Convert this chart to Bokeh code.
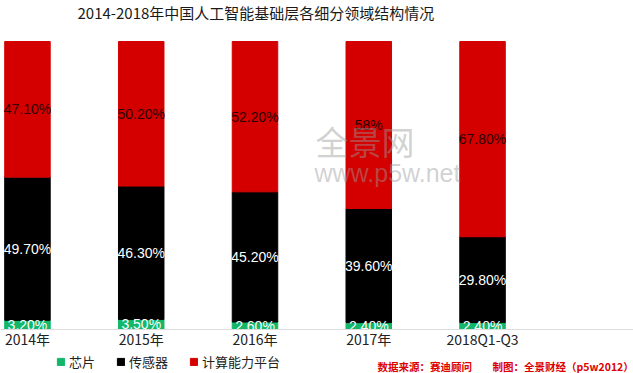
from bokeh.plotting import figure
from bokeh.models import Range1d, FixedTicker, Legend, LegendItem, Label, ColumnDataSource
from bokeh.core.properties import value
from bokeh.embed import file_html
from bokeh.resources import INLINE
import numpy as np

title_text = "2014-2018年中国人工智能基础层各细分领域结构情况"
categories = ["2014年", "2015年", "2016年", "2017年", "2018Q1-Q3"]
chip = [3.20, 3.50, 2.60, 2.40, 2.40]
sensor = [49.70, 46.30, 45.20, 39.60, 29.80]
compute = [47.10, 50.20, 52.20, 58.0, 67.80]
chip_labels = ["3.20%", "3.50%", "2.60%", "2.40%", "2.40%"]
sensor_labels = ["49.70%", "46.30%", "45.20%", "39.60%", "29.80%"]
compute_labels = ["47.10%", "50.20%", "52.20%", "58%", "67.80%"]
series_names = ["芯片", "传感器", "计算能力平台"]
colors = ["#12b76a", "#000000", "#d40000"]
label_colors = ["#ffffff", "#ffffff", "#2a0000"]

x = np.arange(len(categories))
c0 = np.array(chip)
c1 = c0 + np.array(sensor)
c2 = c1 + np.array(compute)

p = figure(width=633, height=373, output_backend="svg", toolbar_location=None,
           x_range=Range1d(-0.237, 5.327), y_range=Range1d(-15.28, 114.24),
           y_axis_location=None, min_border_left=0, min_border_right=0,
           min_border_top=0, min_border_bottom=0)
p.outline_line_color = None
p.xgrid.grid_line_color = None
p.ygrid.grid_line_color = None

p.add_layout(Label(x=77, y=361, x_units="screen", y_units="screen", text=title_text,
                   text_baseline="middle", text_font="Noto Sans CJK SC",
                   text_font_size="15px", text_color="#1a1a1a"))

src = ColumnDataSource(dict(x=x, b0=np.zeros(len(x)), t0=c0, t1=c1, t2=c2,
                            m0=c0 / 2, m1=(c0 + c1) / 2, m2=(c1 + c2) / 2,
                            l0=chip_labels, l1=sensor_labels, l2=compute_labels))
w = 0.4
r0 = p.vbar(x="x", bottom="b0", top="t0", width=w, color=colors[0], source=src)
r1 = p.vbar(x="x", bottom="t0", top="t1", width=w, color=colors[1], source=src)
r2 = p.vbar(x="x", bottom="t1", top="t2", width=w, color=colors[2], source=src)

# watermark (behind labels)
p.add_layout(Label(x=315, y=209, x_units="screen", y_units="screen", text="全景网",
                   text_font="Noto Sans CJK SC", text_font_size="33px",
                   text_color="#9a9a9a", text_alpha=0.45))
p.add_layout(Label(x=314, y=187, x_units="screen", y_units="screen", text="www.p5w.net",
                   text_font="Liberation Sans", text_font_size="25px",
                   text_color="#9a9a9a", text_alpha=0.45))

for m, l, c in [("m0", "l0", label_colors[0]), ("m1", "l1", label_colors[1]), ("m2", "l2", label_colors[2])]:
    p.text(x="x", y=m, text=l, source=src, text_align="center", text_baseline="middle",
           text_font=value("Liberation Sans"), text_font_size="14px", text_color=c)

p.xaxis.fixed_location = 0
p.xaxis.ticker = FixedTicker(ticks=list(x))
p.xaxis.major_label_overrides = {int(i): c for i, c in zip(x, categories)}
p.xaxis.axis_line_color = "#dcdcdc"
p.xaxis.major_tick_line_color = None
p.xaxis.minor_tick_line_color = None
p.xaxis.major_tick_out = 0
p.xaxis.major_tick_in = 0
p.xaxis.major_label_standoff = 0
p.xaxis.major_label_text_font = "Noto Sans CJK SC"
p.xaxis.major_label_text_font_size = "14px"
p.xaxis.major_label_text_color = "#222222"

legend = Legend(items=[LegendItem(label=series_names[0], renderers=[r0]),
                       LegendItem(label=series_names[1], renderers=[r1]),
                       LegendItem(label=series_names[2], renderers=[r2])],
                orientation="horizontal", location=(56, 2),
                background_fill_alpha=0, border_line_color=None,
                padding=0, margin=0, spacing=21, glyph_width=9, glyph_height=9,
                label_text_font="Noto Sans CJK SC", label_text_font_size="13px",
                label_text_color="#222222", label_standoff=4, label_height=16)
p.add_layout(legend, "center")

p.add_layout(Label(x=377, y=0, x_units="screen", y_units="screen",
                   text="数据来源：赛迪顾问",
                   text_font="Noto Sans CJK SC", text_font_size="10.5px",
                   text_font_style="bold", text_color="#dd0000"))
p.add_layout(Label(x=492, y=0, x_units="screen", y_units="screen",
                   text="制图：全景财经（p5w2012）",
                   text_font="Noto Sans CJK SC", text_font_size="10.5px",
                   text_font_style="bold", text_color="#dd0000"))

open("out.html", "w").write(file_html(p, INLINE))
